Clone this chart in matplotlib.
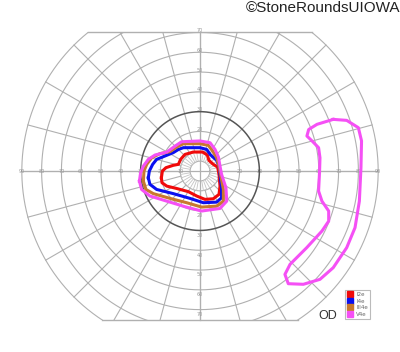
#!/usr/bin/env python3

# Goldmann visual field chart (right eye) with four isopters.

import numpy
import matplotlib
matplotlib.use('Agg')
import matplotlib.pyplot as plt
from matplotlib.lines import Line2D
from matplotlib.patches import Rectangle

# Isopter outlines, in degrees of the visual field (x = temporal/nasal, y = superior/inferior)
i2e_x = [-19.5, -19.0, -17.2, -13.5, -10.9, -9.8, -7.6, -3.4, 1.3, 3.7, 4.5, 6.7, 8.9, 9.6, 10.1, 9.6, 6.7, 2.5, -1.7, -5.9, -11.8, -16.8, -19.2]
i2e_y = [-3.4, 0.0, 1.7, 2.9, 3.4, 5.9, 8.4, 9.6, 9.6, 8.1, 5.4, 3.4, 2.0, -1.7, -7.6, -11.8, -14.0, -14.3, -12.6, -10.4, -8.8, -7.6, -5.9]

i4e_x = [-26.1, -25.6, -23.9, -21.9, -17.7, -13.5, -10.9, -8.4, 0.0, 3.4, 5.1, 8.4, 9.6, 10.1, 10.9, 10.9, 8.4, 1.7, -5.1, -13.5, -21.9, -25.3]
i4e_y = [-3.4, 0.0, 3.4, 5.9, 7.6, 9.3, 10.9, 11.8, 11.8, 10.9, 8.4, 5.4, 2.5, -1.7, -8.4, -13.5, -15.7, -16.0, -13.8, -11.4, -9.3, -6.7]

iii4e_x = [-28.6, -28.3, -26.9, -24.4, -20.2, -15.2, -11.8, -8.4, 0.0, 4.2, 6.4, 8.4, 9.6, 10.4, 11.8, 11.8, 8.4, 0.8, -6.7, -15.2, -23.6, -27.3]
iii4e_y = [-5.1, 0.0, 3.4, 6.7, 8.8, 9.8, 12.1, 13.8, 13.8, 13.0, 10.1, 6.7, 2.5, -1.7, -9.3, -15.2, -17.7, -18.2, -16.0, -13.8, -11.4, -9.3]

v4e_x = [-30.6, -30.0, -28.6, -26.1, -22.7, -16.8, -12.6, -9.3, 0.0, 5.1, 7.6, 9.3, 10.1, 10.9, 13.1, 13.5, 10.1, 0.8, -7.6, -16.8, -25.3, -29.5]
v4e_y = [-5.1, -0.8, 2.5, 5.9, 8.1, 9.6, 12.6, 14.8, 15.2, 14.3, 10.9, 7.1, 2.5, -1.7, -8.4, -15.2, -18.9, -20.2, -18.0, -15.2, -12.6, -9.3]

# temporal island of the V4e isopter
v4e_island_x = [67.3, 74.1, 80.0, 81.6, 81.3, 80.5, 78.3, 74.1, 67.3, 60.6, 52.2, 44.6, 42.9, 45.5, 53.9, 61.6, 65.0, 65.0, 61.6, 59.9, 60.4, 60.6, 59.9, 56.6, 54.0, 54.9, 59.1]
v4e_island_y = [26.1, 25.6, 21.9, 15.2, 1.7, -15.2, -28.6, -38.7, -48.8, -54.7, -57.2, -56.9, -52.2, -47.1, -38.7, -30.3, -25.3, -20.2, -15.2, -10.1, 0.0, 6.7, 11.8, 15.2, 17.7, 21.0, 23.6]

isopter_names = ['I2e', 'I4e', 'III4e', 'V4e']
isopter_colors = ['#f00a0a', '#0a10f0', '#c8782e', '#f550f5']

ring_degrees = [5, 10, 20, 30, 40, 50, 60, 70, 80, 90]
meridian_step = 15
field_top = 70
field_bottom = -75
eye = 'OD'
credit = '©StoneRoundsUIOWA'

grid_color = '#b0b0b0'
label_color = '#9a9a9a'

fig = plt.figure(figsize=(4.0, 3.52), dpi=100)
ax = fig.add_axes([0, 0, 1, 1])
ax.set_xlim(-101.0, 101.0)
ax.set_ylim(-91.4, 86.4)
ax.set_aspect('equal')
ax.axis('off')

clip = Rectangle((-95, field_bottom), 190, field_top - field_bottom, transform=ax.transData, visible=False)
ax.add_patch(clip)

t = numpy.linspace(0, 2 * numpy.pi, 721)
for r in ring_degrees:
    if r == 30:
        line, = ax.plot(r * numpy.cos(t), r * numpy.sin(t), color='#555555', linewidth=1.1, zorder=2)
    else:
        line, = ax.plot(r * numpy.cos(t), r * numpy.sin(t), color=grid_color, linewidth=0.8, zorder=1)
    line.set_clip_path(clip)

# meridians from 10 deg out to the edge of the chart
for ang in range(0, 360, meridian_step):
    a = numpy.radians(ang)
    line, = ax.plot([10 * numpy.cos(a), 90 * numpy.cos(a)], [10 * numpy.sin(a), 90 * numpy.sin(a)],
                    color=grid_color, linewidth=0.8, zorder=1)
    line.set_clip_path(clip)

# finer spokes inside the 10 deg ring
for ang in numpy.arange(0, 360, 10):
    a = numpy.radians(ang)
    ax.plot([5 * numpy.cos(a), 10 * numpy.cos(a)], [5 * numpy.sin(a), 10 * numpy.sin(a)],
            color='#c4c4c4', linewidth=0.6, zorder=1)

# main axes and chart edges
ax.plot([-90, 90], [0, 0], color=grid_color, linewidth=0.9, zorder=1)
ax.plot([0, 0], [field_bottom, field_top], color=grid_color, linewidth=0.9, zorder=1)
half_top = numpy.sqrt(90 ** 2 - field_top ** 2)
half_bot = numpy.sqrt(90 ** 2 - field_bottom ** 2)
ax.plot([-half_top, half_top], [field_top, field_top], color=grid_color, linewidth=1.0, zorder=1)
ax.plot([-half_bot, half_bot], [field_bottom, field_bottom], color=grid_color, linewidth=1.0, zorder=1)

for r in ring_degrees[1:]:
    for sx in (-1, 1):
        ax.text(sx * r, 0, str(r), fontsize=3.5, color=label_color, ha='center', va='center', zorder=1)
for r in ring_degrees[2:8]:
    ax.text(0, r + 1.0, str(r), fontsize=3.5, color=label_color, ha='center', va='center', zorder=1)
    ax.text(0, -r - 2.5, str(r), fontsize=3.5, color=label_color, ha='center', va='center', zorder=1)

curves = [(i2e_x, i2e_y), (i4e_x, i4e_y), (iii4e_x, iii4e_y), (v4e_x, v4e_y)]
for (xs, ys), c in zip(curves, isopter_colors):
    ax.plot(xs + xs[:1], ys + ys[:1], color=c, linewidth=2.2, solid_joinstyle='round', zorder=3)
ax.plot(v4e_island_x + v4e_island_x[:1], v4e_island_y + v4e_island_y[:1], color=isopter_colors[3],
        linewidth=2.2, solid_joinstyle='round', zorder=3)

handles = [Line2D([], [], marker='s', linestyle='none', markersize=5, markerfacecolor=c, markeredgecolor=c)
           for c in isopter_colors]
leg = ax.legend(handles, isopter_names, loc='lower right', bbox_to_anchor=(0.933, 0.085), fontsize=4,
                handlelength=0.8, handletextpad=0.8, borderpad=0.4, labelspacing=0.3, fancybox=False,
                framealpha=1, edgecolor='#bbbbbb')
leg.get_frame().set_linewidth(0.8)
for txt in leg.get_texts():
    txt.set_color('#666666')

ax.text(64.6, -73.2, eye, fontsize=9, color='#333333', ha='center', va='center', family='Liberation Sans')
fig.text(1.0, 0.998, credit, fontsize=11, color='#222222', ha='right', va='top', family='Liberation Sans')

plt.savefig('out.png', dpi=100)
